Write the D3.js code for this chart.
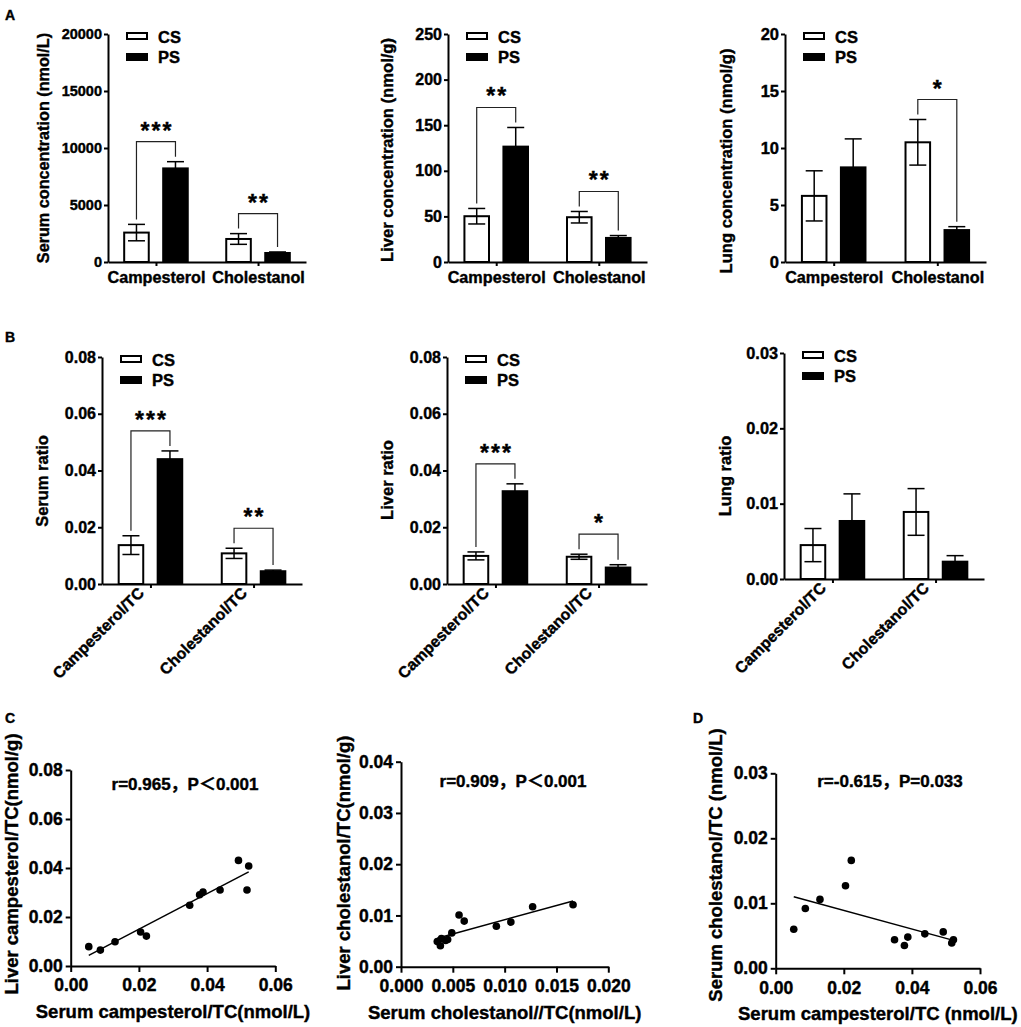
<!DOCTYPE html>
<html>
<head>
<meta charset="utf-8">
<script src="https://cdn.jsdelivr.net/npm/d3@7"></script>
<style>
body { margin: 0; background: #fff; }
svg text { font-family: "Liberation Sans", Arial, "Noto Sans CJK SC", sans-serif; font-weight: bold; fill: #000; stroke: #000; stroke-width: 0.4px; }
</style>
</head>
<body>
<svg id="fig" width="1021" height="1027"></svg>
<script>
const groups = ['Campesterol', 'Cholestanol']
const ratioGroups = ['Campesterol/TC', 'Cholestanol/TC']
const seriesNames = ['CS', 'PS']

// A: concentrations  [Campesterol, Cholestanol]
const serumCS = [2580, 2020], serumCSErr = [720, 470]
const serumPS = [8210, 790], serumPSErr = [590, 90]
const liverCS = [50.2, 49.1], liverCSErr = [8.5, 6.3]
const liverPS = [126.5, 26.4], liverPSErr = [21, 2.6]
const lungCS = [5.8, 10.5], lungCSErr = [2.2, 2.0]
const lungPS = [8.3, 2.8], lungPSErr = [2.5, 0.3]

// B: ratios to TC
const serumRatioCS = [0.0137, 0.0108], serumRatioCSErr = [0.0033, 0.0018]
const serumRatioPS = [0.044, 0.0045], serumRatioPSErr = [0.0029, 0.0004]
const liverRatioCS = [0.0099, 0.0096], liverRatioCSErr = [0.0014, 0.0009]
const liverRatioPS = [0.0327, 0.0058], liverRatioPSErr = [0.0026, 0.001]
const lungRatioCS = [0.0045, 0.0089], lungRatioCSErr = [0.0022, 0.0031]
const lungRatioPS = [0.0077, 0.0023], lungRatioPSErr = [0.0036, 0.0008]

const sigSerum = ['***', '**'], sigLiver = ['**', '**'], sigLung = [null, '*']
const sigSerumRatio = ['***', '**'], sigLiverRatio = ['***', '*'], sigLungRatio = [null, null]

// C / D: correlations
const serumCampTC = [0.0053, 0.0087, 0.013, 0.0205, 0.0222, 0.0349, 0.0378, 0.0388, 0.0438, 0.0492, 0.0517, 0.0522]
const liverCampTC = [0.0079, 0.0065, 0.0099, 0.0139, 0.0122, 0.0248, 0.0291, 0.0302, 0.031, 0.0431, 0.031, 0.0408]
const serumCholTC = [0.0035, 0.0038, 0.0039, 0.0043, 0.0045, 0.0049, 0.0056, 0.0061, 0.0092, 0.0106, 0.0127, 0.0166]
const liverCholTC = [0.0049, 0.0041, 0.0055, 0.0051, 0.0053, 0.0066, 0.0101, 0.0089, 0.0079, 0.0087, 0.0117, 0.0121]
const serumCholTCvsCamp = [0.006, 0.0092, 0.0106, 0.0127, 0.0166, 0.0044, 0.0035, 0.0048, 0.0053, 0.0056, 0.0039, 0.0044]

const svg = d3.select('#fig')

const drawBars = (p) => {
    const g = svg.append('g')
    const y = d3.scaleLinear().domain([0, p.yMax]).range([p.bottom, p.top])
    const x = d3.scalePoint().domain(p.groups).range([p.left, p.right]).padding(0.47)
    const xs = d3.scaleBand().domain(seriesNames).range([-39, 39]).paddingInner(0.37).paddingOuter(0.185)

    const rows = []
    p.groups.forEach((grp, i) => {
        rows.push({ grp: grp, s: 'CS', v: p.cs[i], e: p.csErr[i] })
        rows.push({ grp: grp, s: 'PS', v: p.ps[i], e: p.psErr[i] })
    })
    const cx = (d) => x(d.grp) + xs(d.s) + xs.bandwidth() / 2

    g.selectAll('rect.bar').data(rows).enter().append('rect')
        .attr('class', 'bar')
        .attr('x', (d) => x(d.grp) + xs(d.s))
        .attr('width', xs.bandwidth())
        .attr('y', (d) => y(d.v))
        .attr('height', (d) => y(0) - y(d.v))
        .attr('fill', (d) => d.s === 'CS' ? '#fff' : '#000')
        .attr('stroke', '#000')
        .attr('stroke-width', 2)

    const err = g.selectAll('g.err').data(rows).enter().append('g')
        .attr('stroke', '#000').attr('stroke-width', 1.5)
    err.append('line')
        .attr('x1', cx).attr('x2', cx)
        .attr('y1', (d) => y(d.v - d.e)).attr('y2', (d) => y(d.v + d.e))
    err.append('line')
        .attr('x1', (d) => cx(d) - 8.5).attr('x2', (d) => cx(d) + 8.5)
        .attr('y1', (d) => y(d.v + d.e)).attr('y2', (d) => y(d.v + d.e))
    err.append('line')
        .attr('x1', (d) => cx(d) - 8.5).attr('x2', (d) => cx(d) + 8.5)
        .attr('y1', (d) => y(d.v - d.e)).attr('y2', (d) => y(d.v - d.e))

    // significance brackets
    p.groups.forEach((grp, i) => {
        if (!p.sig[i]) return
        const a = rows[i * 2], b = rows[i * 2 + 1]
        const ya = y(a.v + a.e), yb = y(b.v + b.e)
        const top = Math.min(ya, yb) - 20
        g.append('path')
            .attr('d', 'M' + cx(a) + ',' + (ya - 5) + 'V' + top + 'H' + cx(b) + 'V' + (yb - 5))
            .attr('fill', 'none').attr('stroke', '#222').attr('stroke-width', 1.2)
        g.append('text')
            .attr('x', (cx(a) + cx(b)) / 2 + 1)
            .attr('y', top - 3)
            .attr('text-anchor', 'middle')
            .attr('font-size', 23)
            .attr('letter-spacing', 2)
            .text(p.sig[i])
    })

    const yAxis = g.append('g')
        .attr('transform', 'translate(' + p.left + ',0)')
        .call(d3.axisLeft(y).tickValues(p.ticks).tickFormat(p.fmt).tickSize(4).tickPadding(2).tickSizeOuter(0))
    const xAxis = g.append('g')
        .attr('transform', 'translate(0,' + p.bottom + ')')
        .call(d3.axisBottom(x).tickSize(4).tickPadding(5).tickSizeOuter(0))
    g.selectAll('.domain, .tick line').attr('stroke', '#000').attr('stroke-width', 2)
    g.selectAll('.tick text').attr('font-family', null)
    yAxis.selectAll('text').attr('font-size', p.tickFont)
    xAxis.selectAll('text').attr('font-size', 16.2)

    if (p.rotate) {
        xAxis.selectAll('.tick text')
            .attr('text-anchor', 'end')
            .attr('dy', null)
            .attr('y', null)
            .attr('font-size', 15.8)
            .attr('transform', 'translate(-6,10) rotate(-45)')
    }

    g.append('text')
        .attr('transform', 'translate(' + p.titleX + ',' + p.titleY + ') rotate(-90)')
        .attr('text-anchor', 'middle')
        .attr('font-size', p.titleFont)
        .text(p.title)

    // legend
    g.append('rect').attr('x', p.left + 19).attr('y', p.top - 1).attr('width', 20).attr('height', 6)
        .attr('fill', '#fff').attr('stroke', '#000').attr('stroke-width', 2)
    g.append('rect').attr('x', p.left + 18).attr('y', p.top + 19).attr('width', 22).attr('height', 8)
        .attr('fill', '#000')
    g.append('text').attr('x', p.left + 50).attr('y', p.top + 9).attr('font-size', 16.5).text(seriesNames[0])
    g.append('text').attr('x', p.left + 50).attr('y', p.top + 29).attr('font-size', 16.5).text(seriesNames[1])
}

const drawScatter = (p) => {
    const g = svg.append('g')
    const x = d3.scaleLinear().domain(p.xDomain).range([p.left, p.right])
    const y = d3.scaleLinear().domain(p.yDomain).range([p.bottom, p.top])

    g.append('g')
        .attr('transform', 'translate(0,' + p.bottom + ')')
        .call(d3.axisBottom(x).tickValues(p.xTicks).tickFormat(p.xFmt).tickSize(6).tickPadding(7).tickSizeOuter(0))
    g.append('g')
        .attr('transform', 'translate(' + p.left + ',0)')
        .call(d3.axisLeft(y).tickValues(p.yTicks).tickFormat(d3.format('.2f')).tickSize(5).tickPadding(3).tickSizeOuter(0))
    g.selectAll('.domain, .tick line').attr('stroke', '#000').attr('stroke-width', 2)
    g.selectAll('.tick text').attr('font-size', 17.5).attr('font-family', null)

    const pts = p.xs.map((v, i) => ({ x: v, y: p.ys[i] }))
    const mx = d3.mean(pts, (d) => d.x), my = d3.mean(pts, (d) => d.y)
    const slope = d3.sum(pts, (d) => (d.x - mx) * (d.y - my)) / d3.sum(pts, (d) => (d.x - mx) * (d.x - mx))
    const [x0, x1] = d3.extent(pts, (d) => d.x)
    g.append('line')
        .attr('x1', x(x0)).attr('y1', y(my + slope * (x0 - mx)))
        .attr('x2', x(x1)).attr('y2', y(my + slope * (x1 - mx)))
        .attr('stroke', '#000').attr('stroke-width', 1.5)

    g.selectAll('circle').data(pts).enter().append('circle')
        .attr('cx', (d) => x(d.x))
        .attr('cy', (d) => y(d.y))
        .attr('r', 3.8)
        .attr('fill', '#000')

    g.append('text')
        .attr('x', p.noteX).attr('y', p.noteY)
        .attr('text-anchor', 'middle').attr('font-size', 17)
        .text(p.note)
    g.append('text')
        .attr('x', (p.left + p.right) / 2).attr('y', p.bottom + 52)
        .attr('text-anchor', 'middle').attr('font-size', 18.5)
        .text(p.xTitle)
    g.append('text')
        .attr('transform', 'translate(' + p.titleX + ',' + p.titleY + ') rotate(-90)')
        .attr('text-anchor', 'middle').attr('font-size', 18.5)
        .text(p.yTitle)
}

const fmtInt = d3.format('d'), fmt2 = d3.format('.2f')

drawBars({ left: 108, right: 306, top: 34, bottom: 262, yMax: 20000, ticks: d3.range(0, 20001, 5000), fmt: fmtInt, tickFont: 14.5,
    groups: groups, cs: serumCS, csErr: serumCSErr, ps: serumPS, psErr: serumPSErr, sig: sigSerum,
    title: 'Serum concentration (nmol/L)', titleX: 49, titleY: 148, titleFont: 16.2 })
drawBars({ left: 448, right: 647, top: 34, bottom: 262, yMax: 250, ticks: d3.range(0, 251, 50), fmt: fmtInt, tickFont: 16,
    groups: groups, cs: liverCS, csErr: liverCSErr, ps: liverPS, psErr: liverPSErr, sig: sigLiver,
    title: 'Liver concentration (nmol/g)', titleX: 393, titleY: 150, titleFont: 16.6 })
drawBars({ left: 785, right: 986, top: 34, bottom: 262, yMax: 20, ticks: d3.range(0, 21, 5), fmt: fmtInt, tickFont: 16.5,
    groups: groups, cs: lungCS, csErr: lungCSErr, ps: lungPS, psErr: lungPSErr, sig: sigLung,
    title: 'Lung concentration (nmol/g)', titleX: 732, titleY: 161, titleFont: 16.6 })

drawBars({ left: 102, right: 302, top: 357, bottom: 584, yMax: 0.08, ticks: [0, 0.02, 0.04, 0.06, 0.08], fmt: fmt2, rotate: true, tickFont: 16,
    groups: ratioGroups, cs: serumRatioCS, csErr: serumRatioCSErr, ps: serumRatioPS, psErr: serumRatioPSErr, sig: sigSerumRatio,
    title: 'Serum ratio', titleX: 48, titleY: 481, titleFont: 16.5 })
drawBars({ left: 447, right: 647, top: 357, bottom: 584, yMax: 0.08, ticks: [0, 0.02, 0.04, 0.06, 0.08], fmt: fmt2, rotate: true, tickFont: 16,
    groups: ratioGroups, cs: liverRatioCS, csErr: liverRatioCSErr, ps: liverRatioPS, psErr: liverRatioPSErr, sig: sigLiverRatio,
    title: 'Liver ratio', titleX: 393, titleY: 480, titleFont: 16.5 })
drawBars({ left: 784, right: 984, top: 353, bottom: 579, yMax: 0.03, ticks: [0, 0.01, 0.02, 0.03], fmt: fmt2, rotate: true, tickFont: 16.3,
    groups: ratioGroups, cs: lungRatioCS, csErr: lungRatioCSErr, ps: lungRatioPS, psErr: lungRatioPSErr, sig: sigLungRatio,
    title: 'Lung ratio', titleX: 731, titleY: 476, titleFont: 16.5 })

drawScatter({ left: 70.7, right: 275.3, top: 770, bottom: 966, xDomain: [0, 0.06], yDomain: [0, 0.08],
    xTicks: [0, 0.02, 0.04, 0.06], xFmt: fmt2, yTicks: [0, 0.02, 0.04, 0.06, 0.08],
    xs: serumCampTC, ys: liverCampTC, note: 'r=0.965，P＜0.001', noteX: 185, noteY: 790,
    xTitle: 'Serum campesterol/TC(nmol/L)', yTitle: 'Liver campesterol/TC(nmol/g)', titleX: 18, titleY: 864 })
drawScatter({ left: 401, right: 608.3, top: 761.7, bottom: 966.7, xDomain: [0, 0.02], yDomain: [0, 0.04],
    xTicks: [0, 0.005, 0.01, 0.015, 0.02], xFmt: d3.format('.3f'), yTicks: [0, 0.01, 0.02, 0.03, 0.04],
    xs: serumCholTC, ys: liverCholTC, note: 'r=0.909，P＜0.001', noteX: 513, noteY: 787,
    xTitle: 'Serum cholestanol//TC(nmol/L)', yTitle: 'Liver cholestanol/TC(nmol/g)', titleX: 350, titleY: 863 })
drawScatter({ left: 775.7, right: 980, top: 773.3, bottom: 968.3, xDomain: [0, 0.06], yDomain: [0, 0.03],
    xTicks: [0, 0.02, 0.04, 0.06], xFmt: fmt2, yTicks: [0, 0.01, 0.02, 0.03],
    xs: serumCampTC, ys: serumCholTCvsCamp, note: 'r=-0.615，P=0.033', noteX: 890, noteY: 787,
    xTitle: 'Serum campesterol/TC (nmol/L)', yTitle: 'Serum cholestanol/TC (nmol/L)', titleX: 722, titleY: 865 })

// panel letters
const letters = [['A', 5, 20], ['B', 5, 342], ['C', 5, 723], ['D', 693, 723]]
svg.selectAll('text.letter').data(letters).enter().append('text')
    .attr('class', 'letter')
    .attr('x', (d) => d[1]).attr('y', (d) => d[2])
    .attr('font-size', 14)
    .text((d) => d[0])
</script>
</body>
</html>
